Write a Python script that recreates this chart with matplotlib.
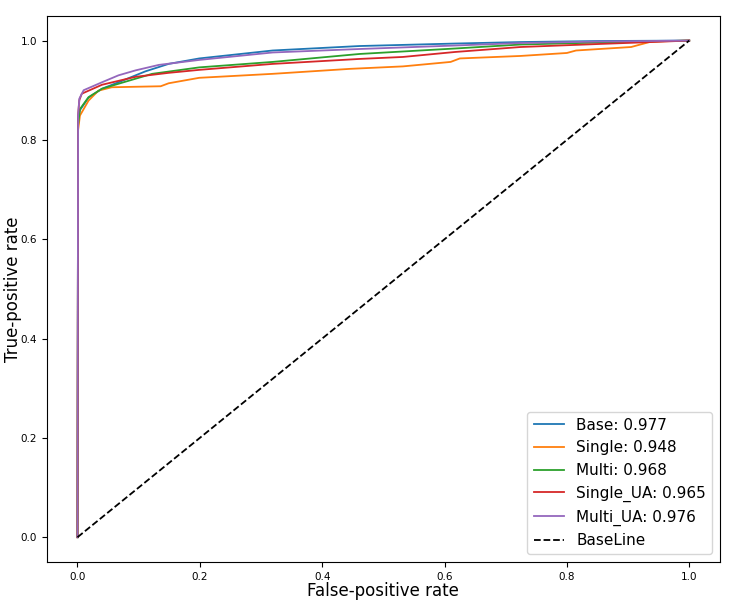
import matplotlib
matplotlib.use("Agg")
import matplotlib.pyplot as plt

# ROC points
base_fpr = [0, 0.001, 0.004, 0.018, 0.04, 0.067, 0.111, 0.149, 0.199, 0.319, 0.461, 0.617, 0.724, 0.85, 1.0]
base_tpr = [0, 0.84, 0.86, 0.885, 0.903, 0.916, 0.938, 0.953, 0.964, 0.98, 0.989, 0.994, 0.997, 0.999, 1.0]

single_fpr = [0, 0.001, 0.004, 0.018, 0.034, 0.056, 0.136, 0.149, 0.199, 0.319, 0.445, 0.532,
              0.61, 0.625, 0.724, 0.80, 0.815, 0.905, 0.938, 1.0]
single_tpr = [0, 0.82, 0.849, 0.879, 0.899, 0.906, 0.908, 0.914, 0.925, 0.933, 0.943, 0.948,
              0.957, 0.964, 0.969, 0.975, 0.98, 0.987, 0.998, 1.0]

multi_fpr = [0, 0.001, 0.004, 0.018, 0.04, 0.067, 0.122, 0.199, 0.319, 0.461, 0.617, 0.724, 0.85, 1.0]
multi_tpr = [0, 0.83, 0.862, 0.886, 0.903, 0.913, 0.933, 0.946, 0.957, 0.973, 0.984, 0.992, 0.996, 1.0]

single_ua_fpr = [0, 0.001, 0.003, 0.007, 0.04, 0.095, 0.149, 0.199, 0.319, 0.461, 0.532, 0.617,
                 0.724, 0.85, 0.938, 1.0]
single_ua_tpr = [0, 0.85, 0.88, 0.893, 0.911, 0.927, 0.935, 0.941, 0.953, 0.963, 0.967, 0.977,
                 0.987, 0.993, 0.997, 1.0]

multi_ua_fpr = [0, 0.001, 0.003, 0.01, 0.04, 0.067, 0.095, 0.133, 0.199, 0.319, 0.461, 0.617, 0.724, 0.85, 1.0]
multi_ua_tpr = [0, 0.85, 0.883, 0.90, 0.916, 0.930, 0.940, 0.951, 0.961, 0.976, 0.983, 0.99, 0.995, 0.998, 1.0]

names = ["Base", "Single", "Multi", "Single_UA", "Multi_UA"]
aucs = [0.977, 0.948, 0.968, 0.965, 0.976]
curves = [(base_fpr, base_tpr), (single_fpr, single_tpr), (multi_fpr, multi_tpr),
          (single_ua_fpr, single_ua_tpr), (multi_ua_fpr, multi_ua_tpr)]

fig = plt.figure(figsize=(7.33, 6.05), dpi=100)
ax = fig.add_axes([0.064, 0.071, 0.918, 0.903])

for name, auc, (fpr, tpr) in zip(names, aucs, curves):
    ax.plot(fpr, tpr, lw=1.3, label="%s: %.3f" % (name, auc))

ax.plot([0, 1], [0, 1], "k--", lw=1.3, label="BaseLine")

ax.set_xlabel("False-positive rate", fontsize=12, labelpad=0.5)
ax.set_ylabel("True-positive rate", fontsize=12, labelpad=-1)
ax.tick_params(labelsize=7.5)
ax.legend(loc="lower right", fontsize=11)

fig.savefig("out.png", dpi=100)
